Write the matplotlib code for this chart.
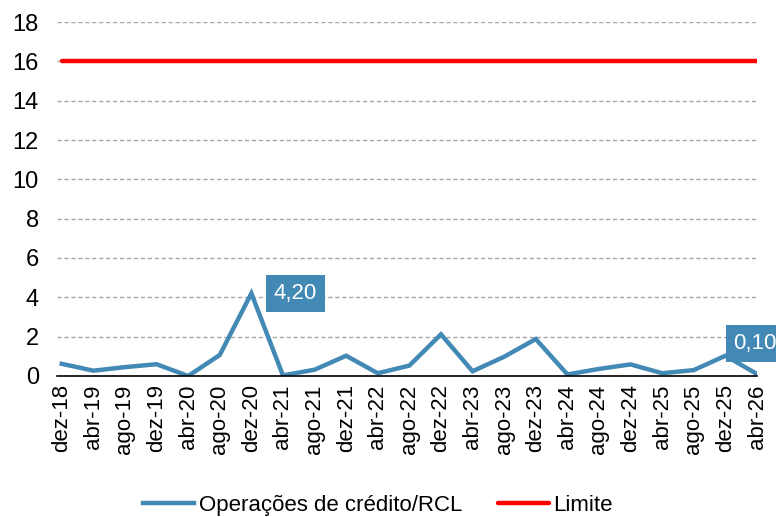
import matplotlib.pyplot as plt

plt.rcParams['font.family'] = ['Liberation Sans', 'DejaVu Sans']

meses = ['dez-18', 'abr-19', 'ago-19', 'dez-19', 'abr-20', 'ago-20', 'dez-20',
         'abr-21', 'ago-21', 'dez-21', 'abr-22', 'ago-22', 'dez-22', 'abr-23',
         'ago-23', 'dez-23', 'abr-24', 'ago-24', 'dez-24', 'abr-25', 'ago-25',
         'dez-25', 'abr-26']
operacoes = [0.62, 0.27, 0.45, 0.60, 0.0, 1.07, 4.20, 0.03, 0.32, 1.03, 0.14,
             0.53, 2.12, 0.24, 0.98, 1.88, 0.08, 0.36, 0.59, 0.14, 0.30, 1.03, 0.10]
limite = [16] * len(meses)

azul = '#4389b6'
vermelho = '#ff0000'

fig = plt.figure(figsize=(7.76, 5.17), dpi=100)
ax = fig.add_axes([57 / 776, 1 - 376 / 517, 700 / 776, 354 / 517])

x = range(len(meses))
ax.plot(x, operacoes, color=azul, lw=3.2, solid_joinstyle='miter',
        label='Operações de crédito/RCL', zorder=3)
ax.plot(x, limite, color=vermelho, lw=3.2, solid_capstyle='round',
        label='Limite', zorder=3)

ax.set_xlim(-0.15, len(meses) - 1)
ax.set_ylim(0, 18)
ax.set_yticks(range(0, 19, 2))
ax.set_xticks(list(x))
ax.set_xticklabels(meses, rotation=90, fontsize=16)
ax.tick_params(axis='y', labelsize=17, length=0, pad=13)
ax.tick_params(axis='x', length=0, pad=6)
ax.yaxis.grid(True, color='#a6a6a6', ls=(0, (3, 2)), lw=1)
ax.set_axisbelow(True)
for s in ['top', 'right', 'left']:
    ax.spines[s].set_visible(False)
ax.spines['bottom'].set_color('black')
ax.spines['bottom'].set_linewidth(1.2)
ax.spines['bottom'].set_zorder(4)

caixa = dict(boxstyle='square,pad=0.35', fc=azul, ec='none')
i = meses.index('dez-20')
ax.annotate(f'{operacoes[i]:.2f}'.replace('.', ','), (i, operacoes[i]),
            xytext=(16, 0), textcoords='offset points', ha='left', va='center',
            color='white', fontsize=16, bbox=caixa, zorder=5)
i = len(meses) - 1
ax.annotate(f'{operacoes[i]:.2f}'.replace('.', ','), (i, operacoes[i]),
            xytext=(-17, 22), textcoords='offset points', ha='left', va='center',
            color='white', fontsize=16, bbox=caixa, zorder=5, annotation_clip=False)

fig.legend(loc='lower center', bbox_to_anchor=(0.487, -0.037), ncol=2, frameon=False,
           fontsize=16, handlelength=2.3, handletextpad=0.2, columnspacing=1.6)

fig.savefig('out.png', dpi=100)
